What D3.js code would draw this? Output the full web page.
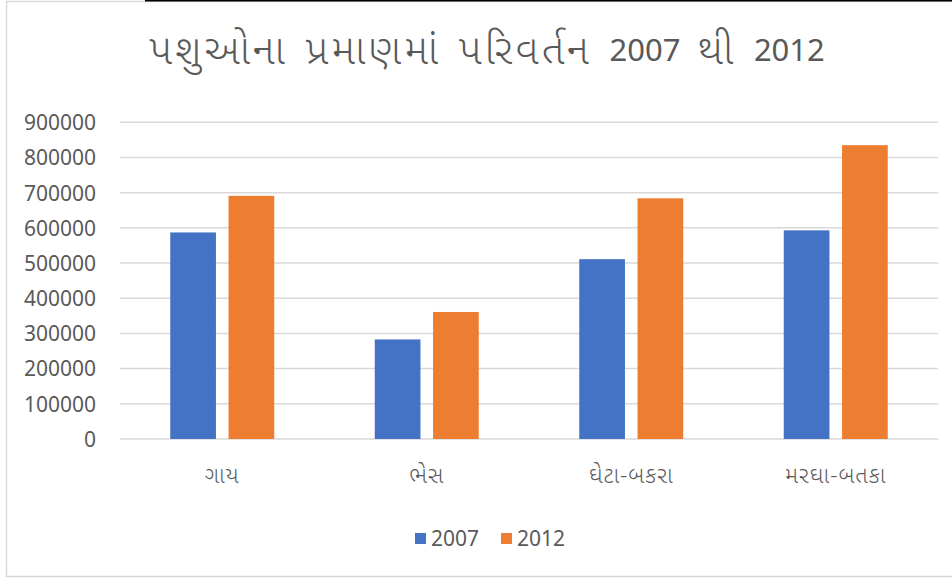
<!DOCTYPE html>
<html>
<head>
<meta charset="utf-8">
<script src="https://cdn.jsdelivr.net/npm/d3@7"></script>
<style>
  html, body { margin: 0; padding: 0; background: #fff; }
  svg { display: block; }
  text { font-family: "Noto Sans", "Open Sans", "Noto Sans Gujarati", sans-serif; }
</style>
</head>
<body>
<svg id="chart" width="952" height="579"></svg>
<script>
const titleParts = [
  { t: "પશુઓના પ્રમાણમાં પરિવર્તન ", guj: true },
  { t: "2007", guj: false },
  { t: " થી ", guj: true },
  { t: "2012", guj: false }
];
const categories = ["ગાય", "ભેસ", "ઘેટા-બકરા", "મરઘા-બતકા"];
const seriesNames = ["2007", "2012"];
const values2007 = [587000, 283000, 511000, 593000];
const values2012 = [691000, 361000, 684000, 835000];
const yTicks = [0, 100000, 200000, 300000, 400000, 500000, 600000, 700000, 800000, 900000];
const colors = ["#4472C4", "#ED7D31"];

const svg = d3.select("#chart");
const W = 952, H = 579;
const plot = { left: 120, right: 938, top: 122.3, bottom: 439 };

svg.append("rect")
  .attr("x", 6.5).attr("y", 1.5).attr("width", W + 10).attr("height", 575)
  .attr("fill", "#fff").attr("stroke", "#d9d9d9").attr("stroke-width", 1.5);
svg.append("line")
  .attr("x1", 145).attr("x2", W).attr("y1", 0.75).attr("y2", 0.75)
  .attr("stroke", "#000").attr("stroke-width", 1.5);

const x0 = d3.scaleBand().domain(categories).range([plot.left, plot.right]).padding(0);
const x1 = d3.scaleBand().domain(seriesNames).range([0, 104]).paddingInner(0.216).paddingOuter(0);
const y = d3.scaleLinear().domain([0, 900000]).range([plot.bottom, plot.top]);

svg.append("g").selectAll("line").data(yTicks).join("line")
  .attr("x1", plot.left).attr("x2", plot.right)
  .attr("y1", d => y(d)).attr("y2", d => y(d))
  .attr("stroke", "#d9d9d9").attr("stroke-width", 1.5);

const yAxis = d3.axisLeft(y).tickValues(yTicks).tickFormat(d3.format("d")).tickSize(0).tickPadding(0);
const gy = svg.append("g").attr("transform", `translate(96,0)`).call(yAxis);
gy.select(".domain").remove();
gy.selectAll("text")
  .style("font-family", "'Noto Sans', 'Open Sans', sans-serif")
  .attr("font-size", 21).attr("fill", "#595959").attr("dy", "0.35em");

const data = categories.map((c, i) => ({ cat: c, vals: [values2007[i], values2012[i]] }));
const groupOffset = (x0.bandwidth() - 104) / 2;
const groups = svg.append("g").selectAll("g").data(data).join("g")
  .attr("transform", d => `translate(${x0(d.cat) + groupOffset},0)`);
groups.selectAll("rect").data(d => d.vals.map((v, j) => ({ s: seriesNames[j], v, j })))
  .join("rect")
  .attr("x", d => x1(d.s))
  .attr("width", x1.bandwidth())
  .attr("y", d => y(d.v))
  .attr("height", d => y(0) - y(d.v))
  .attr("fill", d => colors[d.j]);

const xAxis = d3.axisBottom(x0).tickSize(0).tickPadding(0);
const gx = svg.append("g").attr("transform", `translate(0,475)`).call(xAxis);
gx.select(".domain").remove();
gx.selectAll("text")
  .style("font-family", "'Noto Sans Gujarati', 'Noto Sans', sans-serif")
  .style("font-weight", 350)
  .style("letter-spacing", "1px")
  .attr("font-size", 22.5).attr("fill", "#595959").attr("dy", "0.35em").attr("y", 0);

const title = svg.append("text")
  .attr("x", 487).attr("y", 53)
  .attr("text-anchor", "middle").attr("dominant-baseline", "middle")
  .attr("fill", "#595959");
title.selectAll("tspan").data(titleParts).join("tspan")
  .attr("font-size", d => d.guj ? 41 : 31)
  .style("font-weight", d => d.guj ? 350 : 400)
  .style("letter-spacing", d => d.guj ? "3px" : "0px")
  .style("word-spacing", d => d.guj ? "4px" : "0px")
  .text(d => d.t);

const legendItems = [{ name: seriesNames[0], x: 415 }, { name: seriesNames[1], x: 501 }];
const lg = svg.append("g").selectAll("g").data(legendItems).join("g")
  .attr("transform", d => `translate(${d.x},533)`);
lg.append("rect").attr("width", 11).attr("height", 11)
  .attr("fill", (d, i) => colors[i]);
lg.append("text").attr("x", 16).attr("y", 5.5).attr("dy", "0.35em")
  .attr("font-size", 21).attr("fill", "#595959")
  .text(d => d.name);
</script>
</body>
</html>
